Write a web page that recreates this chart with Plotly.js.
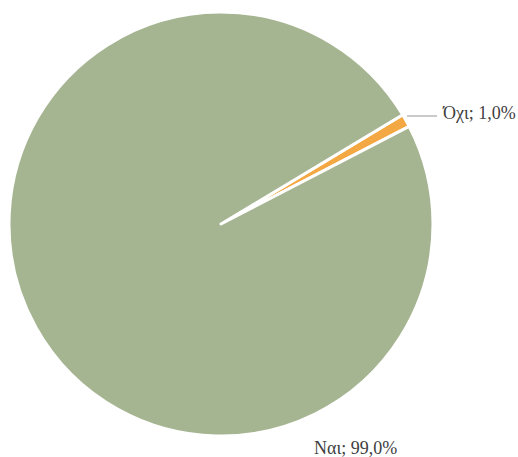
<!DOCTYPE html>
<html>
<head>
<meta charset="utf-8">
<script src="https://cdn.plot.ly/plotly-3.0.1.min.js"></script>
<style>html,body{margin:0;padding:0;background:#fff;}#chart{width:518px;height:457px;}</style>
</head>
<body>
<div id="chart"></div>
<script>
const labels = ["Όχι", "Ναι"];
const values = [1.0, 99.0];
const colors = ["#F4A843", "#A6B591"];

const W = 518, H = 457;
const fontFam = "Liberation Serif, DejaVu Serif, serif";
const fmt = v => v.toFixed(1).replace(".", ",") + "%";
const total = values.reduce((a, b) => a + b, 0);
const labelText = labels.map((l, i) => l + "; " + fmt(values[i] / total * 100));

const trace = {
  type: "pie",
  labels: labels,
  values: values,
  sort: false,
  direction: "clockwise",
  rotation: 59,
  marker: { colors: colors, line: { color: "#ffffff", width: 3 } },
  textinfo: "none",
  hoverinfo: "label+percent",
  domain: { x: [9 / W, 433 / W], y: [1 - 436 / H, 1 - 12 / H] },
  showlegend: false
};

const layout = {
  width: W, height: H,
  margin: { l: 0, r: 0, t: 0, b: 0 },
  paper_bgcolor: "#ffffff",
  separators: ",.",
  font: { family: fontFam, size: 18, color: "#404040" },
  shapes: [
    { type: "line", xref: "paper", yref: "paper",
      x0: 407 / W, x1: 437 / W, y0: 1 - 116 / H, y1: 1 - 116 / H,
      line: { color: "#A6A6A6", width: 1.2 } }
  ],
  annotations: [
    { xref: "paper", yref: "paper", x: 440 / W, y: 1 - 113 / H,
      xanchor: "left", yanchor: "middle", showarrow: false,
      text: labelText[0], font: { family: fontFam, size: 18, color: "#404040" } },
    { xref: "paper", yref: "paper", x: 355 / W, y: 1 - 448 / H,
      xanchor: "center", yanchor: "middle", showarrow: false,
      text: labelText[1], font: { family: fontFam, size: 18, color: "#404040" } }
  ]
};

Plotly.newPlot("chart", [trace], layout, { displayModeBar: false, staticPlot: true });
</script>
</body>
</html>
